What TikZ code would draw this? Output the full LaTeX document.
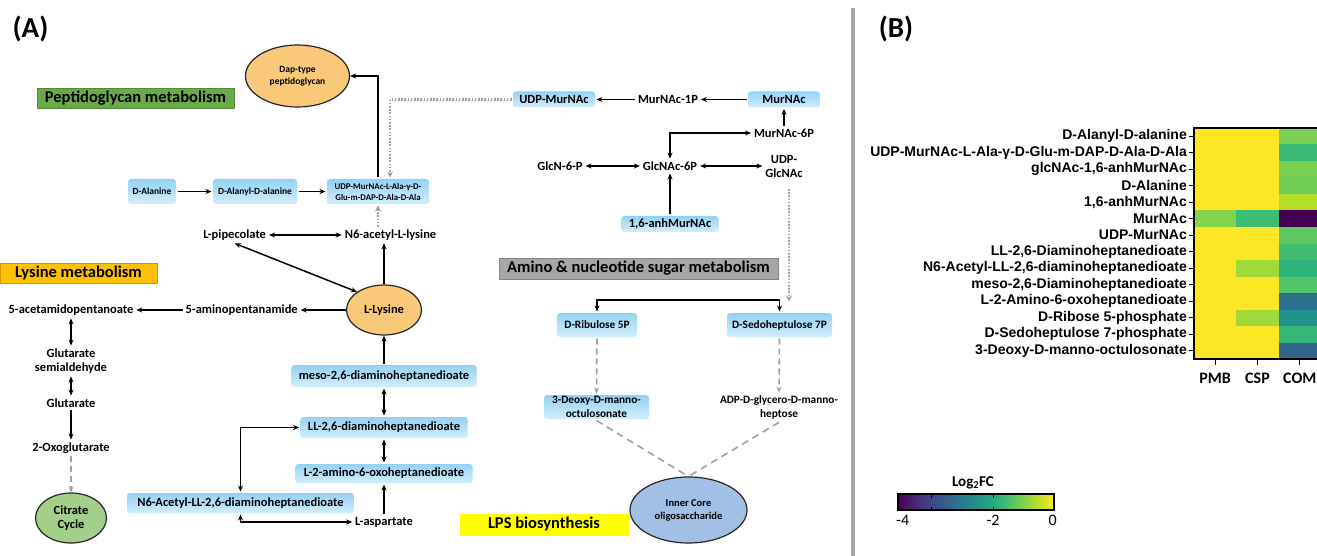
\documentclass[tikz,border=0pt]{standalone}
\usepackage{fontspec}
\setmainfont{Carlito}
\newfontfamily\arialf{Liberation Sans}
\usetikzlibrary{arrows.meta,calc,shapes.geometric}
\definecolor{boxtop}{HTML}{93D1F5}
\definecolor{boxbot}{HTML}{D4EEFC}
\definecolor{orng}{HTML}{F9C879}
\definecolor{citg}{HTML}{A3CF8A}
\definecolor{innerb}{HTML}{A2C0E6}
\definecolor{pgreen}{HTML}{6AAB48}
\definecolor{lysorg}{HTML}{FFC000}
\definecolor{amgray}{HTML}{A6A6A6}
\definecolor{lpsy}{HTML}{FFFF00}
\definecolor{lngray}{HTML}{A0A0A0}
\definecolor{divg}{HTML}{A8A8A8}
\definecolor{hY}{HTML}{FDE725}
\definecolor{pM}{HTML}{84D44B}
\definecolor{sM}{HTML}{3DBC74}
\definecolor{sY}{HTML}{A0DA39}
\definecolor{cA}{HTML}{7AD151}
\definecolor{cB}{HTML}{3BBB75}
\definecolor{cC}{HTML}{7AD151}
\definecolor{cD}{HTML}{6ECE58}
\definecolor{cE}{HTML}{B5DE2B}
\definecolor{cF}{HTML}{440154}
\definecolor{cG}{HTML}{5EC962}
\definecolor{cH}{HTML}{40BD72}
\definecolor{cI}{HTML}{2EB37C}
\definecolor{cJ}{HTML}{52C569}
\definecolor{cK}{HTML}{2C728E}
\definecolor{cL}{HTML}{21918C}
\definecolor{cM}{HTML}{35B779}
\definecolor{cN}{HTML}{33638D}
\definecolor{vA}{HTML}{440154}
\definecolor{vB}{HTML}{472D7B}
\definecolor{vC}{HTML}{3B528B}
\definecolor{vD}{HTML}{2C728E}
\definecolor{vE}{HTML}{21918C}
\definecolor{vF}{HTML}{28AE80}
\definecolor{vG}{HTML}{5EC962}
\definecolor{vH}{HTML}{ADDC30}
\definecolor{vI}{HTML}{FDE725}
\pgfdeclarehorizontalshading{viridisbar}{100bp}{color(0bp)=(vA); color(25bp)=(vA); color(31.25bp)=(vB); color(37.5bp)=(vC); color(43.75bp)=(vD); color(50bp)=(vE); color(56.25bp)=(vF); color(62.5bp)=(vG); color(68.75bp)=(vH); color(75bp)=(vI); color(100bp)=(vI)}
\tikzset{
 txt/.style={font=\bfseries\fontsize{12.5}{14}\selectfont, inner sep=0pt, outer sep=3pt, align=center},
 bbox/.style={rounded corners=3pt, top color=boxtop, bottom color=boxbot, inner sep=0pt, outer sep=1.5pt, align=center, font=\bfseries\fontsize{12.5}{14}\selectfont},
 sbox/.style={bbox, font=\bfseries\fontsize{9.5}{11.5}\selectfont},
 mbox/.style={bbox, font=\bfseries\fontsize{11.3}{14}\selectfont},
 cat/.style={draw=#1!80!black, fill=#1, inner sep=0pt, font=\bfseries\fontsize{16.5}{18}\selectfont, line width=0.8pt},
 ell/.style={ellipse, draw=black!85, line width=1.2pt, fill=#1, inner sep=0pt, align=center},
 arr/.style={line width=1.5pt, -{Stealth[length=6pt,width=5pt]}},
 bi/.style={line width=1.5pt, {Stealth[length=6pt,width=5pt]}-{Stealth[length=6pt,width=5pt]}},
 dotarr/.style={lngray, line width=2.2pt, dash pattern=on 1.6pt off 1.6pt, -{Stealth[length=6pt,width=6pt]}},
 dasharr/.style={lngray, line width=1.6pt, dash pattern=on 6pt off 4pt, -{Stealth[length=6pt,width=5pt]}},
 dashln/.style={lngray, line width=1.6pt, dash pattern=on 7pt off 5pt},
 hl/.style={font=\arialf\bfseries\fontsize{14}{16}\selectfont, inner sep=0pt, anchor=east},
}
\begin{document}
\begin{tikzpicture}[x=1pt,y=-1pt]
\path[use as bounding box] (0,0) rectangle (1317,556);
\clip (0,0) rectangle (1317,556);
\fill[white] (0,0) rectangle (1317,556);

% panel labels and divider
\node[font=\bfseries\fontsize{29}{30}\selectfont, inner sep=0pt] (labA) at (30.5,29) {(A)};
\node[font=\bfseries\fontsize{29}{30}\selectfont, inner sep=0pt] (labB) at (896,28.5) {(B)};
\draw[divg, line width=4pt] (853,8) -- (853,556);

% ---------- Peptidoglycan ----------
\node[ell=orng, minimum width=104pt, minimum height=62pt, font=\bfseries\fontsize{9.5}{12}\selectfont] (dap) at (297.5,76) {Dap-type\\peptidoglycan};
\node[cat=pgreen, minimum width=197pt, minimum height=20pt] (pgm) at (135.5,98) {Peptidoglycan metabolism};
\node[sbox, minimum width=48pt, minimum height=25pt] (dala) at (152,191.5) {D-Alanine};
\node[sbox, minimum width=84pt, minimum height=25pt] (dalad) at (255,191.5) {D-Alanyl-D-alanine};
\node[sbox, font=\bfseries\fontsize{8.8}{11}\selectfont, minimum width=102pt, minimum height=25pt] (udpp) at (378,191.5) {UDP-MurNAc-L-Ala-γ-D-\\Glu-m-DAP-D-Ala-D-Ala};
\node[txt] (lpip) at (234.7,235) {L-pipecolate};
\node[txt] (n6al) at (390.5,235) {N6-acetyl-L-lysine};

% ---------- Lysine ----------
\node[ell=orng, minimum width=75pt, minimum height=50pt, font=\bfseries\fontsize{12.5}{14}\selectfont] (lys) at (384,310) {L-Lysine};
\node[cat=lysorg, minimum width=157pt, minimum height=20pt] (lysm) at (78.5,273) {Lysine metabolism};
\node[txt] (apa) at (241.7,310) {5-aminopentanamide};
\node[txt] (aca) at (71,310) {5-acetamidopentanoate};
\node[txt] (gsa) at (71,361) {Glutarate\\semialdehyde};
\node[txt] (glut) at (71,403) {Glutarate};
\node[txt] (oxo) at (71,448) {2-Oxoglutarate};
\node[ell=citg, minimum width=71pt, minimum height=50pt, font=\bfseries\fontsize{12.5}{14}\selectfont] (cit) at (71,518) {Citrate\\Cycle};
\node[bbox, minimum width=185pt, minimum height=22pt] (meso) at (384,376) {meso-2,6-diaminoheptanedioate};
\node[bbox, minimum width=167pt, minimum height=21pt] (ll) at (384,427.5) {LL-2,6-diaminoheptanedioate};
\node[bbox, minimum width=177pt, minimum height=19pt] (l2a) at (384,473.5) {L-2-amino-6-oxoheptanedioate};
\node[bbox, minimum width=227pt, minimum height=20pt] (n6ll) at (240.5,503) {N6-Acetyl-LL-2,6-diaminoheptanedioate};
\node[txt] (asp) at (384,522) {L-aspartate};

% ---------- Amino sugar ----------
\node[bbox, minimum width=82pt, minimum height=16pt] (udpm) at (554,99.5) {UDP-MurNAc};
\node[txt] (m1p) at (668,99.5) {MurNAc-1P};
\node[bbox, minimum width=72pt, minimum height=16pt] (murnac) at (784,99.5) {MurNAc};
\node[txt] (m6p) at (784,133) {MurNAc-6P};
\node[txt] (gn6p) at (560,166) {GlcN-6-P};
\node[txt] (gna6p) at (670,166) {GlcNAc-6P};
\node[txt] (udpg) at (784,166) {UDP-\\GlcNAc};
\node[bbox, minimum width=97pt, minimum height=16pt] (anh) at (670,224) {1,6-anhMurNAc};

% ---------- LPS ----------
\node[cat=amgray, minimum width=279pt, minimum height=21pt] (amns) at (638.5,268.5) {Amino \& nucleotide sugar metabolism};
\node[mbox, minimum width=80pt, minimum height=24pt] (rib) at (597,325) {D-Ribulose 5P};
\node[mbox, minimum width=105pt, minimum height=24pt] (sedo) at (779.5,325) {D-Sedoheptulose 7P};
\node[mbox, minimum width=105pt, minimum height=24pt] (kdo) at (596.5,407) {3-Deoxy-D-manno-\\octulosonate};
\node[txt, font=\bfseries\fontsize{11.3}{14}\selectfont] (adp) at (779,407.5) {ADP-D-glycero-D-manno-\\heptose};
\node[ell=innerb, minimum width=117pt, minimum height=66pt, font=\bfseries\fontsize{10.5}{13}\selectfont] (inner) at (688.5,510) {Inner Core\\oligosaccharide};
\node[cat=lpsy, draw=lpsy, minimum width=168pt, minimum height=21pt] (lps) at (544,524.5) {LPS biosynthesis};

% ---------- connectors ----------
\draw[arr] (udpp.north) |- (dap.east);
\draw[arr] (dala.east) -- (dalad.west);
\draw[arr] (dalad.east) -- (udpp.west);
\draw[dotarr] (udpm.west) -| ([xshift=12pt]udpp.north);
\draw[dotarr] (udpp.south |- n6al.north) -- (udpp.south);
\draw[bi] (lpip.east) -- (n6al.west);
\draw[arr] (lys.north) -- (lys.north |- n6al.south);
\draw[bi] (lpip.south) -- (lys.north west);
\draw[arr] (lys.west) -- (apa.east);
\draw[arr] (apa.west) -- (aca.east);
\draw[bi] (aca.south) -- (gsa.north);
\draw[bi] (gsa.south) -- (glut.north);
\draw[arr] (glut.south) -- (oxo.north);
\draw[dasharr] (oxo.south) -- (cit.north);
\draw[arr] (meso.north) -- (lys.south);
\draw[bi] (meso.south) -- (ll.north);
\draw[bi] (ll.south) -- (l2a.north);
\draw[arr] (asp.north) -- (l2a.south);
\draw[bi] (n6ll.north) |- (ll.west);
\draw[bi] (n6ll.south) |- (asp.west);

\draw[arr] (murnac.west) -- (m1p.east);
\draw[arr] (m1p.west) -- (udpm.east);
\draw[arr] (m6p.north) -- (murnac.south);
\draw[bi] (m6p.west) -| (gna6p.north);
\draw[bi] (gn6p.east) -- (gna6p.west);
\draw[bi] (gna6p.east) -- (udpg.west);
\draw[arr] (anh.north) -- (gna6p.south);
\draw[dotarr] ([xshift=5pt,yshift=-9pt]udpg.south) -- ([xshift=9.5pt,yshift=10pt]sedo.north);
\draw[bi] (rib.north) -- ++(0,-11.5) -| (sedo.north);
\draw[dasharr] (rib.south) -- (kdo.north);
\draw[dasharr] (sedo.south) -- (adp.north);
\draw[dashln] (kdo.south) -- (inner.north);
\draw[dashln] (adp.south) -- (inner.north);

% ---------- Heatmap ----------
\foreach \ca/\cb/\cc [count=\i] in {hY/hY/cA, hY/hY/cB, hY/hY/cC, hY/hY/cD, hY/hY/cE, pM/sM/cF, hY/hY/cG, hY/hY/cH, hY/sY/cI, hY/hY/cJ, hY/hY/cK, hY/sY/cL, hY/hY/cM, hY/hY/cN} {
  \pgfmathsetmacro\yy{128+16.5*(\i-1)}
  \fill[\ca] (1194,\yy) rectangle ++(42.3,16.5);
  \fill[\cb] (1236.3,\yy) rectangle ++(42.3,16.5);
  \fill[\cc] (1278.6,\yy) rectangle ++(45,16.5);
}
\foreach \lab [count=\i] in {D-Alanyl-D-alanine, UDP-MurNAc-L-Ala-γ-D-Glu-m-DAP-D-Ala-D-Ala, {glcNAc-1,6-anhMurNAc}, D-Alanine, {1,6-anhMurNAc}, MurNAc, UDP-MurNAc, {LL-2,6-Diaminoheptanedioate}, {N6-Acetyl-LL-2,6-diaminoheptanedioate}, {meso-2,6-Diaminoheptanedioate}, L-2-Amino-6-oxoheptanedioate, D-Ribose 5-phosphate, D-Sedoheptulose 7-phosphate, 3-Deoxy-D-manno-octulosonate} {
  \pgfmathsetmacro\yy{128+16.5*(\i-0.5)}
  \node[hl] (row\i) at (1187,\yy) {\lab};
  \draw[line width=1.2pt] (1188.5,\yy) -- (1194,\yy);
}
\draw[line width=1.5pt] (1322,128) -- (1194,128) -- (1194,359) -- (1322,359);
\foreach \x in {1215.2,1257.5,1299.8} \draw[line width=1.2pt] (\x,359) -- (\x,365);
\node[font=\bfseries\fontsize{16}{18}\selectfont, inner sep=0pt] (cPMB) at (1215.2,378) {PMB};
\node[font=\bfseries\fontsize{16}{18}\selectfont, inner sep=0pt] (cCSP) at (1257.5,378) {CSP};
\node[font=\bfseries\fontsize{16}{18}\selectfont, inner sep=0pt] (cCOM) at (1299.8,378) {COM};

% ---------- colour bar ----------
\shade[shading=viridisbar] (898,494) rectangle (1054,510);
\draw[line width=1.2pt] (898,494) rectangle (1054,510);
\foreach \x in {931,993} { \draw[line width=1pt] (\x,494) -- (\x,497.5); \draw[line width=1pt] (\x,510) -- (\x,506.5); }
\node[font=\bfseries\fontsize{15}{17}\selectfont, inner sep=0pt] (cbt) at (973,483) {Log\textsubscript{2}FC};
\node[font=\fontsize{16}{18}\selectfont, inner sep=0pt] (cbm4) at (902.7,520.5) {-4};
\node[font=\fontsize{16}{18}\selectfont, inner sep=0pt] (cbm2) at (993,520.5) {-2};
\node[font=\fontsize{16}{18}\selectfont, inner sep=0pt] (cb0) at (1052.7,520.5) {0};
\end{tikzpicture}
\end{document}
